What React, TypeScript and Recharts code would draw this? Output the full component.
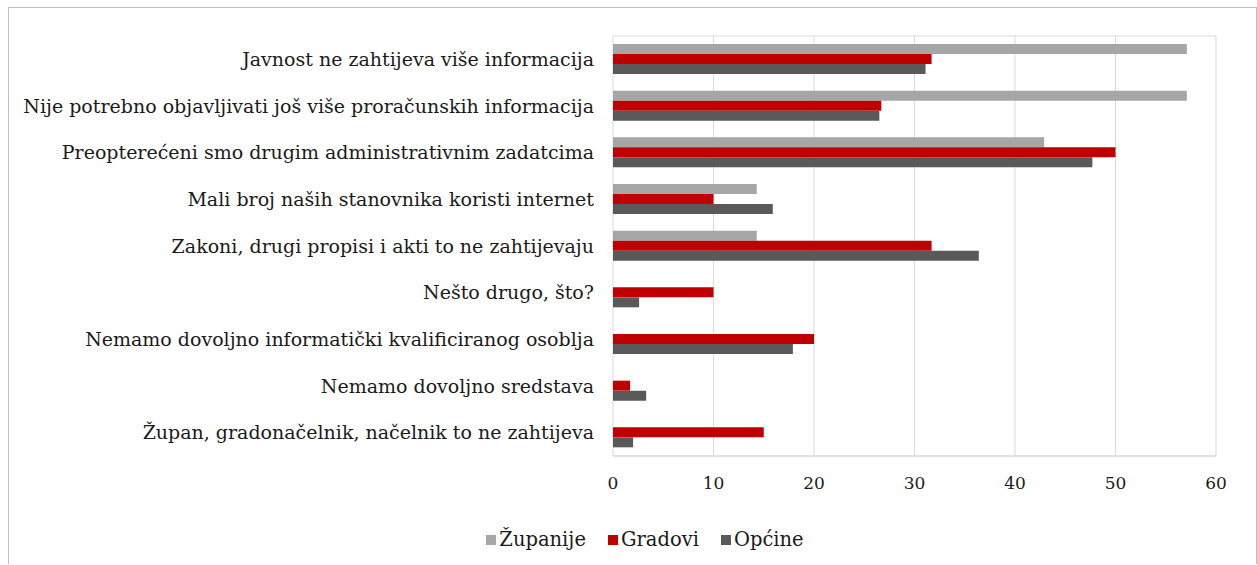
import React from 'react';
import { BarChart, Bar, XAxis, YAxis, CartesianGrid, Legend } from 'recharts';

const categories = [
  'Javnost ne zahtijeva više informacija',
  'Nije potrebno objavljivati još više proračunskih informacija',
  'Preopterećeni smo drugim administrativnim zadatcima',
  'Mali broj naših stanovnika koristi internet',
  'Zakoni, drugi propisi i akti to ne zahtijevaju',
  'Nešto drugo, što?',
  'Nemamo dovoljno informatički kvalificiranog osoblja',
  'Nemamo dovoljno sredstava',
  'Župan, gradonačelnik, načelnik to ne zahtijeva',
];

const zupanije = [57.1, 57.1, 42.9, 14.3, 14.3, 0, 0, 0, 0];
const gradovi = [31.7, 26.7, 50.0, 10.0, 31.7, 10.0, 20.0, 1.7, 15.0];
const opcine = [31.1, 26.5, 47.7, 15.9, 36.4, 2.6, 17.9, 3.3, 2.0];

const xTicks = [0, 10, 20, 30, 40, 50, 60];

const seriesNames = ['Županije', 'Gradovi', 'Općine'];
const seriesKeys = ['zupanije', 'gradovi', 'opcine'];
const seriesColors = ['#a6a6a6', '#c00000', '#595959'];

const data = categories.map((c, i) => ({
  name: c,
  zupanije: zupanije[i],
  gradovi: gradovi[i],
  opcine: opcine[i],
}));

const FONT = '"DejaVu Serif", serif';

const LegendContent = () => (
  <div
    style={{
      display: 'flex',
      justifyContent: 'center',
      alignItems: 'center',
      fontFamily: FONT,
      fontSize: 19.5,
      color: '#1a1a1a',
      paddingLeft: 25,
    }}
  >
    {seriesNames.map((n, i) => (
      <div key={n} style={{ display: 'flex', alignItems: 'center', marginRight: i < 2 ? 22 : 0 }}>
        <span
          style={{
            display: 'inline-block',
            width: 10,
            height: 10,
            background: seriesColors[i],
            marginRight: 3,
          }}
        />
        <span>{n}</span>
      </div>
    ))}
  </div>
);

export default function App() {
  return (
    <div
      style={{
        position: 'absolute',
        top: 7,
        left: 8,
        width: 1247,
        height: 556,
        borderTop: '1px solid #bfbfbf',
        borderLeft: '1px solid #bfbfbf',
        borderRight: '1px solid #bfbfbf',
        background: '#fff',
      }}
    >
      <BarChart
        layout="vertical"
        width={1247}
        height={556}
        data={data}
        margin={{ top: 28, right: 40, left: 0, bottom: 68 }}
        barGap={0}
        barSize={10}
      >
        <CartesianGrid
          stroke="#d9d9d9"
          horizontalCoordinatesGenerator={(props: any) => [
            props.offset.top,
            props.offset.top + props.offset.height,
          ]}
        />
        <XAxis
          type="number"
          domain={[0, 60]}
          ticks={xTicks}
          tickLine={false}
          axisLine={{ stroke: '#d9d9d9' }}
          tickMargin={15}
          height={40}
          tick={{ fontFamily: FONT, fontSize: 17, fill: '#1a1a1a' }}
        />
        <YAxis
          type="category"
          dataKey="name"
          width={604}
          axisLine={false}
          tickLine={false}
          tickMargin={13}
          interval={0}
          tick={{ fontFamily: FONT, fontSize: 19, fill: '#1a1a1a' }}
        />
        <Legend
          verticalAlign="middle"
          align="center"
          layout="horizontal"
          wrapperStyle={{ top: 520, left: 0, width: 1247 }}
          content={() => <LegendContent />}
        />
        {seriesKeys.map((k, i) => (
          <Bar
            key={k}
            dataKey={k}
            name={seriesNames[i]}
            fill={seriesColors[i]}
            isAnimationActive={false}
          />
        ))}
      </BarChart>
    </div>
  );
}
